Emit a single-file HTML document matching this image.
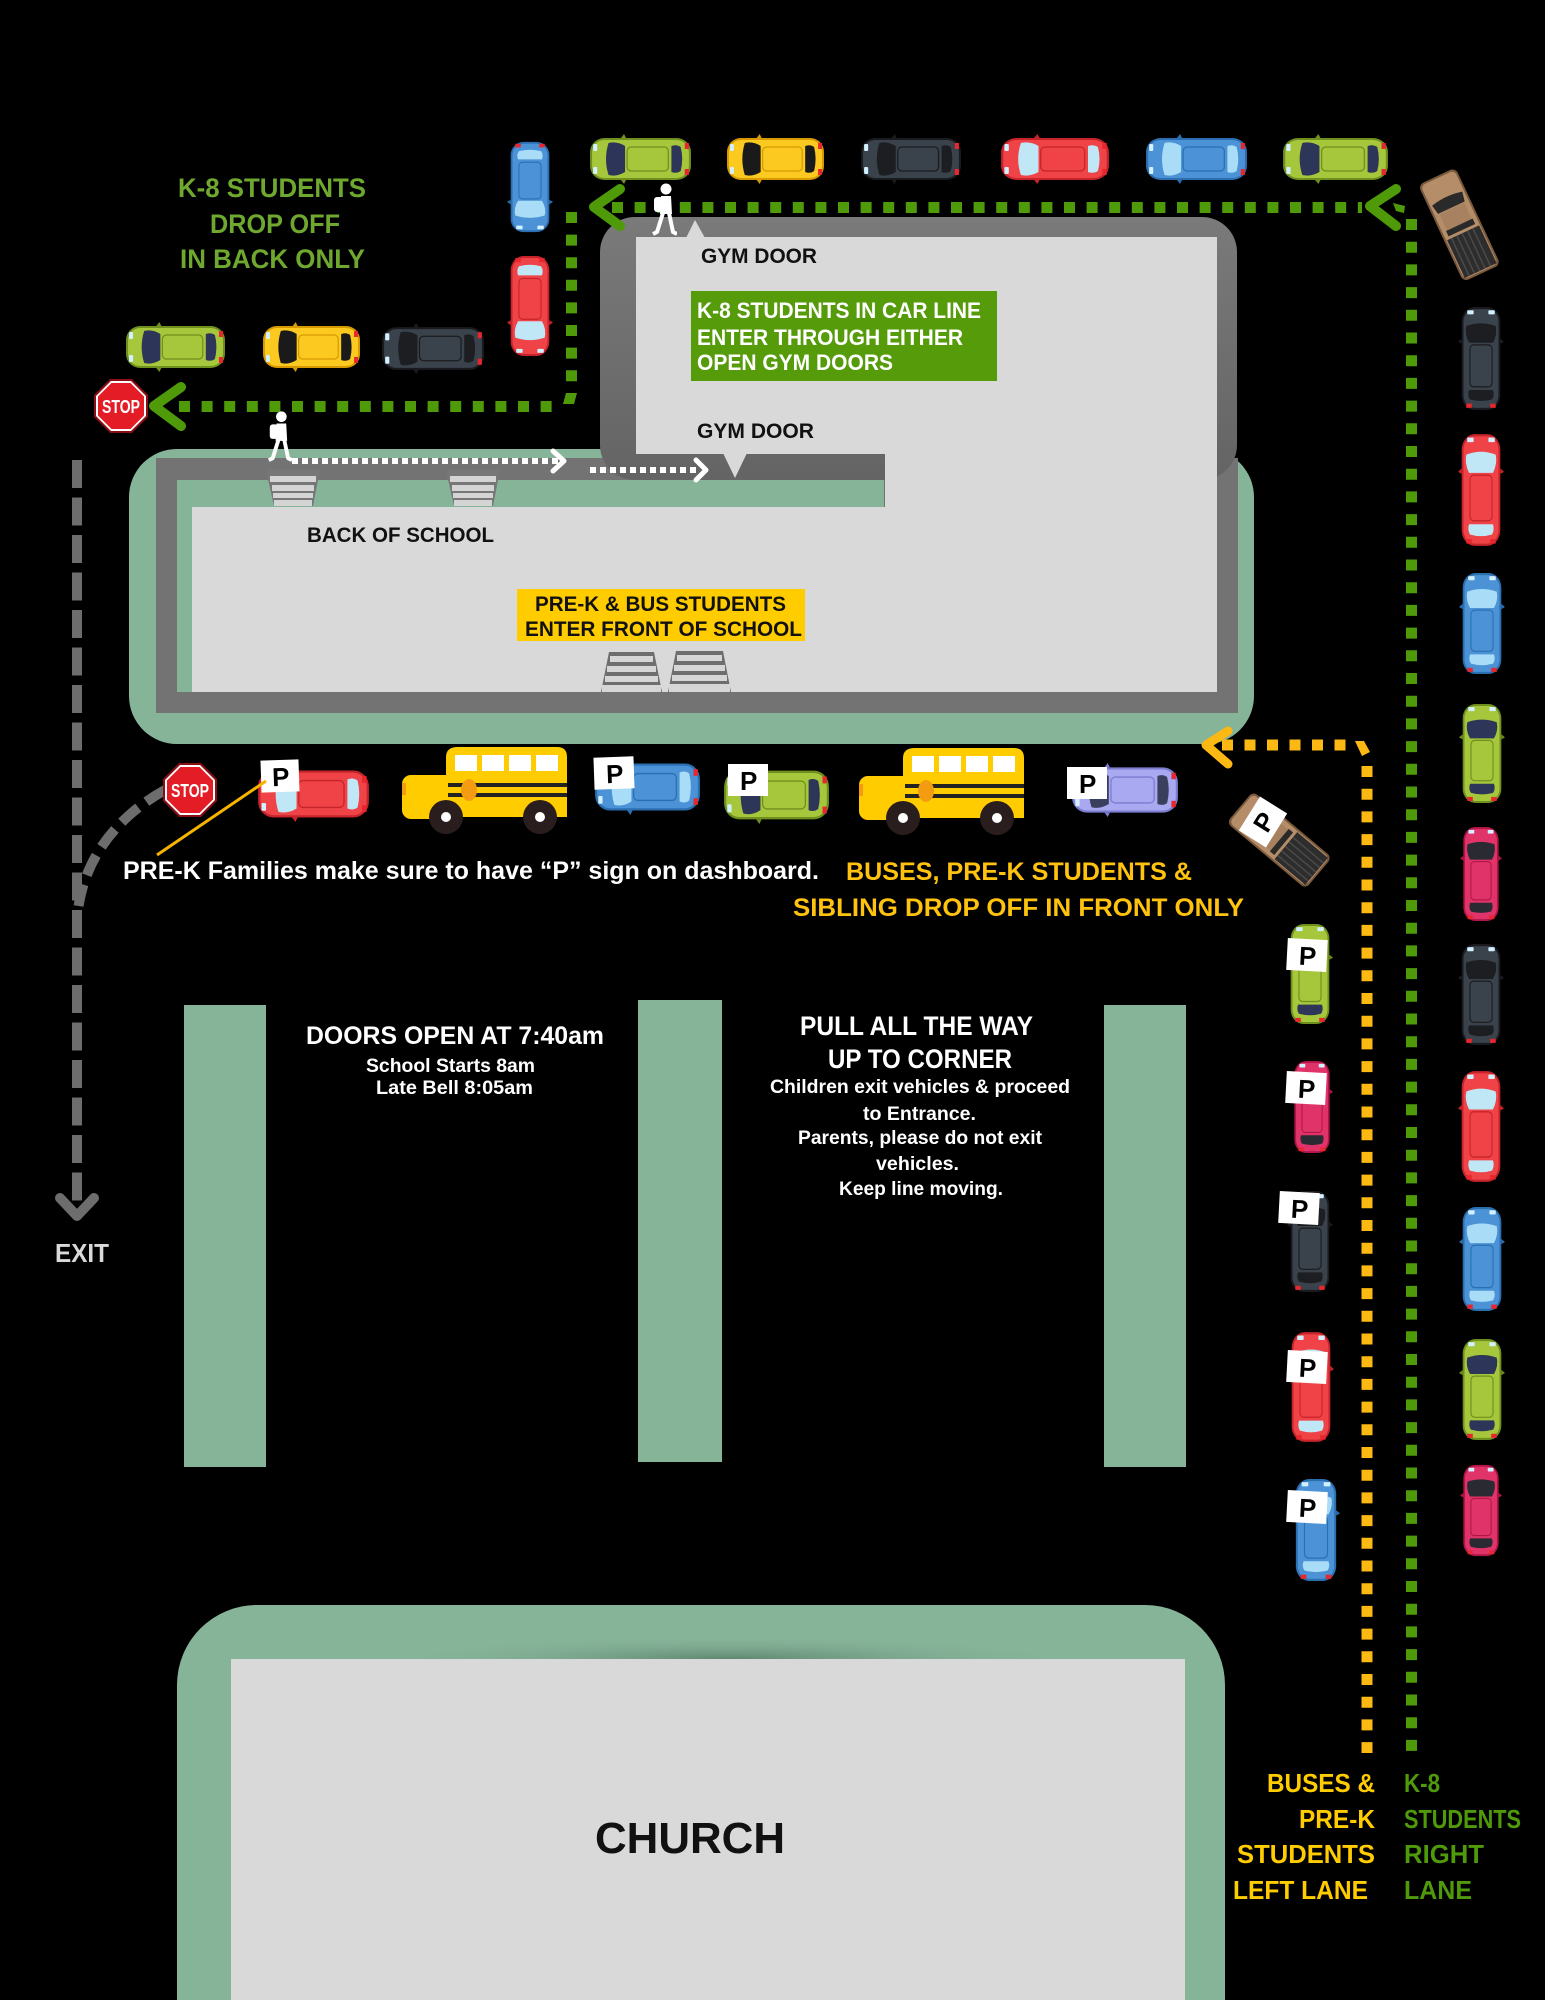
<!DOCTYPE html>
<html><head><meta charset="utf-8">
<style>
html,body{margin:0;padding:0;background:#000;width:1545px;height:2000px;overflow:hidden;}
svg{display:block}
text{font-family:"Liberation Sans",Arial,sans-serif;font-weight:700;}
</style></head><body>
<svg width="1545" height="2000" viewBox="0 0 1545 2000" xmlns="http://www.w3.org/2000/svg">
<defs>
 <symbol id="car" viewBox="0 0 100 50" preserveAspectRatio="none">
  <rect x="1" y="4" width="98" height="42" rx="14" style="fill:var(--d)"/>
  <rect x="3" y="6" width="94" height="38" rx="12" fill="currentColor"/>
  <path d="M19 9 Q27 7 35 12 L35 38 Q27 43 19 41 Q14 25 19 9Z" style="fill:var(--w)"/>
  <path d="M80 12 Q85 10 89 13 Q92 25 89 37 Q85 40 80 38 Z" style="fill:var(--w)"/>
  <rect x="37" y="13" width="40" height="24" rx="4" fill="currentColor" style="stroke:var(--d)" stroke-width="1.2"/>
  <rect x="4" y="10" width="4" height="7" rx="1" fill="#d2f0ff"/>
  <rect x="4" y="33" width="4" height="7" rx="1" fill="#d2f0ff"/>
  <rect x="93" y="9" width="4" height="6" fill="#e8262e"/>
  <rect x="93" y="35" width="4" height="6" fill="#e8262e"/>
  <path d="M31 4 L34 0 L36 4Z M31 46 L34 50 L36 46Z" style="fill:var(--d)"/>
 </symbol>
 <symbol id="bus" viewBox="0 0 165 88">
  <rect x="0" y="28" width="54" height="44" rx="9" fill="#ffcc00"/>
  <path d="M44 70 L44 10 Q44 0 56 0 L155 0 Q165 0 165 10 L165 70 Z" fill="#ffcc00"/>
  <rect x="53" y="8" width="22" height="16" fill="#fff"/>
  <rect x="80" y="8" width="22" height="16" fill="#fff"/>
  <rect x="107" y="8" width="22" height="16" fill="#fff"/>
  <rect x="134" y="8" width="22" height="16" fill="#fff"/>
  <rect x="46" y="36" width="119" height="4" fill="#222"/>
  <rect x="46" y="46" width="119" height="4" fill="#222"/>
  <ellipse cx="67" cy="43" rx="8" ry="11" fill="#f39c12"/>
  <rect x="0" y="36" width="4" height="12" fill="#f39c12"/>
  <circle cx="44" cy="70" r="17" fill="#2a1d1d"/><circle cx="44" cy="70" r="5" fill="#fff"/>
  <circle cx="138" cy="70" r="17" fill="#2a1d1d"/><circle cx="138" cy="70" r="5" fill="#fff"/>
 </symbol>
 <symbol id="truck" viewBox="0 0 110 46" preserveAspectRatio="none">
  <rect x="1" y="2" width="108" height="42" rx="6" fill="#7a5a3c"/>
  <rect x="3" y="4" width="104" height="38" rx="5" fill="#b58d68"/>
  <path d="M26 6 L36 8 L36 38 L26 40 Q22 23 26 6Z" fill="#2a2a2a"/>
  <rect x="37" y="9" width="18" height="28" fill="#a88260"/>
  <rect x="55" y="8" width="6" height="30" fill="#2a2a2a"/>
  <rect x="64" y="5" width="42" height="36" fill="#2d2d2d"/>
  <path d="M64 12 H106 M64 18 H106 M64 24 H106 M64 30 H106 M64 36 H106" stroke="#4a4a4a" stroke-width="1.5"/>
 </symbol>
 <symbol id="kid" viewBox="0 0 30 53">
  <circle cx="19" cy="6" r="5.5" fill="#fff"/>
  <path d="M14 13 L24 13 L25 31 L13 31 Z" fill="#fff"/>
  <rect x="7" y="14" width="9" height="15" rx="3" fill="#fff"/>
  <polyline points="16,30 10,49 6,51" fill="none" stroke="#fff" stroke-width="4" stroke-linejoin="round"/>
  <polyline points="22,30 26,49 30,51" fill="none" stroke="#fff" stroke-width="4" stroke-linejoin="round"/>
 </symbol>
 <linearGradient id="gymg" x1="0" y1="0" x2="0" y2="1">
  <stop offset="0" stop-color="#7a7a7a"/><stop offset="1" stop-color="#646464"/>
 </linearGradient>
 <radialGradient id="chsh" cx="0.5" cy="1" r="0.5">
  <stop offset="0" stop-color="#5f8670" stop-opacity="1"/>
  <stop offset="1" stop-color="#86b499" stop-opacity="0"/>
 </radialGradient>
</defs>

<!-- School building -->
<rect x="129" y="449" width="1125" height="295" rx="48" fill="#86b499"/>
<rect x="156" y="458" width="1082" height="255" fill="#737373"/>
<rect x="177" y="480" width="707" height="212" fill="#86b499"/>
<rect x="192" y="507" width="1025" height="185" fill="#d9d9d9"/>
<!-- Gym -->
<rect x="600" y="217" width="637" height="263" rx="35" fill="url(#gymg)"/>
<rect x="636" y="237" width="581" height="217" fill="#d9d9d9"/>
<rect x="885" y="443" width="332" height="249" fill="#d9d9d9"/>
<polygon points="686,238 695,220 705,238" fill="#d9d9d9"/>
<polygon points="723,453 747,453 735,478" fill="#d9d9d9"/>

<!-- steps back -->
<g transform="translate(267,469)">
 <path d="M0 0 H52 V6 L46 37 H7 L0 6Z" fill="#777"/>
 <rect x="3" y="7" width="46" height="6" fill="#d4d4d4"/>
 <rect x="5" y="16" width="42" height="6" fill="#d4d4d4"/>
 <rect x="6" y="24" width="40" height="5" fill="#d4d4d4"/>
 <rect x="7" y="31" width="38" height="6" fill="#d4d4d4"/>
</g>
<g transform="translate(447,469)">
 <path d="M0 0 H52 V6 L46 37 H7 L0 6Z" fill="#777"/>
 <rect x="3" y="7" width="46" height="6" fill="#d4d4d4"/>
 <rect x="5" y="16" width="42" height="6" fill="#d4d4d4"/>
 <rect x="6" y="24" width="40" height="5" fill="#d4d4d4"/>
 <rect x="7" y="31" width="38" height="6" fill="#d4d4d4"/>
</g>
<!-- steps front -->
<g transform="translate(601,652)">
 <path d="M8 0 H53 L61 40 H0Z" fill="#6e6e6e"/>
 <rect x="9" y="4" width="43" height="6" fill="#d6d6d6"/>
 <rect x="6" y="14" width="49" height="6" fill="#d6d6d6"/>
 <rect x="4" y="24" width="53" height="6" fill="#d6d6d6"/>
 <rect x="1" y="33" width="59" height="7" fill="#d6d6d6"/>
</g>
<g transform="translate(668,651)">
 <path d="M8 0 H55 L63 41 H0Z" fill="#6e6e6e"/>
 <rect x="9" y="4" width="45" height="6" fill="#d6d6d6"/>
 <rect x="6" y="14" width="51" height="6" fill="#d6d6d6"/>
 <rect x="4" y="24" width="55" height="6" fill="#d6d6d6"/>
 <rect x="1" y="33" width="61" height="8" fill="#d6d6d6"/>
</g>

<!-- white dotted arrows -->
<line x1="292" y1="461" x2="558" y2="461" stroke="#fff" stroke-width="6" stroke-dasharray="6 4"/>
<polyline points="553,451 564,461 553,471" fill="none" stroke="#fff" stroke-width="5" stroke-linecap="round" stroke-linejoin="round"/>
<line x1="590" y1="470" x2="700" y2="470" stroke="#fff" stroke-width="6" stroke-dasharray="6 4"/>
<polyline points="696,460 706,470 696,480" fill="none" stroke="#fff" stroke-width="5" stroke-linecap="round" stroke-linejoin="round"/>

<!-- Church -->
<path d="M177 2000 V1685 A80 80 0 0 1 257 1605 H1145 A80 80 0 0 1 1225 1685 V2000 Z" fill="#86b499"/>
<rect x="380" y="1612" width="700" height="47" fill="url(#chsh)"/>
<rect x="231" y="1659" width="954" height="341" fill="#d9d9d9"/>

<!-- green islands -->
<rect x="184" y="1005" width="82" height="462" fill="#86b499"/>
<rect x="638" y="1000" width="84" height="462" fill="#86b499"/>
<rect x="1104" y="1005" width="82" height="462" fill="#86b499"/>

<!-- Green dotted path -->
<g stroke="#4f9a08" fill="none">
 <line x1="612" y1="207.5" x2="1362" y2="207.5" stroke-width="11" stroke-dasharray="11 11.6"/>
 <line x1="1411.5" y1="219" x2="1411.5" y2="1753" stroke-width="11" stroke-dasharray="11 11.7"/>
 <line x1="571.5" y1="212" x2="571.5" y2="385" stroke-width="11" stroke-dasharray="11 11.6"/>
 <line x1="179" y1="406.5" x2="556" y2="406.5" stroke-width="11" stroke-dasharray="11 11.6"/>
 <polyline points="1396,189 1370,206 1396,226" stroke-width="10" stroke-linecap="round" stroke-linejoin="round"/>
 <polyline points="620,189 594,207 620,226" stroke-width="10" stroke-linecap="round" stroke-linejoin="round"/>
 <polyline points="181,387 154,406 181,426" stroke-width="10" stroke-linecap="round" stroke-linejoin="round"/>
</g>
<polygon points="1393,203 1405,206 1404,213 1396,211" fill="#4f9a08"/>
<polygon points="566,393 577,393 574,404 563,404" fill="#4f9a08"/>

<!-- Yellow dotted path -->
<g stroke="#fcb813" fill="none">
 <line x1="1222" y1="745" x2="1348" y2="745" stroke-width="11" stroke-dasharray="11 11.5"/>
 <line x1="1367" y1="766" x2="1367" y2="1753" stroke-width="11" stroke-dasharray="11 11.7"/>
 <polyline points="1228,731 1206,745 1228,764" stroke-width="9" stroke-linecap="round" stroke-linejoin="round"/>
</g>
<polygon points="1355,741 1364,741 1370,752 1362,756" fill="#fcb813"/>

<!-- Gray exit path -->
<g stroke="#6d6d6d" fill="none" stroke-width="10">
 <line x1="77" y1="460" x2="77" y2="1205" stroke-dasharray="28 9.5"/>
 <path d="M165 790 C120 815 85 855 78 910" stroke-dasharray="22 10"/>
 <polyline points="60,1198 77,1216 94,1198" stroke-linecap="round" stroke-linejoin="round"/>
</g>

<!-- Stop signs -->
<g transform="translate(121,406)">
 <polygon points="11,-27 27,-11 27,11 11,27 -11,27 -27,11 -27,-11 -11,-27" fill="#8a0f14"/>
 <polygon points="10,-25 25,-10 25,10 10,25 -10,25 -25,10 -25,-10 -10,-25" fill="#fff"/>
 <polygon points="9.5,-23 23,-9.5 23,9.5 9.5,23 -9.5,23 -23,9.5 -23,-9.5 -9.5,-23" fill="#e31c25"/>
 <text x="-19" y="7" font-size="18" fill="#fff" textLength="38" lengthAdjust="spacingAndGlyphs">STOP</text>
</g>
<g transform="translate(190,790)">
 <polygon points="11,-27 27,-11 27,11 11,27 -11,27 -27,11 -27,-11 -11,-27" fill="#8a0f14"/>
 <polygon points="10,-25 25,-10 25,10 10,25 -10,25 -25,10 -25,-10 -10,-25" fill="#fff"/>
 <polygon points="9.5,-23 23,-9.5 23,9.5 9.5,23 -9.5,23 -23,9.5 -23,-9.5 -9.5,-23" fill="#e31c25"/>
 <text x="-19" y="7" font-size="18" fill="#fff" textLength="38" lengthAdjust="spacingAndGlyphs">STOP</text>
</g>

<!-- Cars: top row (facing left) -->
<use href="#car" x="589" y="134" width="103" height="50" color="#a6c63c" style="--d:#6f8f1e;--w:#2d3558"/>
<use href="#car" x="726" y="134" width="99" height="50" color="#fbc91f" style="--d:#d69a00;--w:#1a1a1a"/>
<use href="#car" x="860" y="134" width="102" height="50" color="#3a424b" style="--d:#1a1b1f;--w:#1d1e22"/>
<use href="#car" x="1000" y="134" width="110" height="50" color="#ef4347" style="--d:#c6242a;--w:#bfe7f6"/>
<use href="#car" x="1145" y="134" width="103" height="50" color="#4b93d6" style="--d:#2b6fb0;--w:#a9dcf6"/>
<use href="#car" x="1282" y="134" width="107" height="50" color="#a6c63c" style="--d:#6f8f1e;--w:#2d3558"/>
<!-- left row -->
<use href="#car" x="125" y="322" width="101" height="50" color="#a6c63c" style="--d:#6f8f1e;--w:#2d3558"/>
<use href="#car" x="262" y="322" width="99" height="50" color="#fbc91f" style="--d:#d69a00;--w:#1a1a1a"/>
<use href="#car" x="381" y="323" width="104" height="51" color="#3a424b" style="--d:#1a1b1f;--w:#1d1e22"/>
<!-- vertical near gym (facing down) -->
<g transform="translate(530,187) rotate(-90)"><use href="#car" x="-46" y="-23" width="92" height="46" color="#4b93d6" style="--d:#2b6fb0;--w:#a9dcf6"/></g>
<g transform="translate(530,306) rotate(-90)"><use href="#car" x="-51" y="-23" width="102" height="46" color="#ef4347" style="--d:#c6242a;--w:#bfe7f6"/></g>

<!-- right column (facing up) -->
<g transform="translate(1481,358) rotate(90)"><use href="#car" x="-52" y="-23" width="105" height="46" color="#3a424b" style="--d:#1a1b1f;--w:#1d1e22"/></g>
<g transform="translate(1481,490) rotate(90)"><use href="#car" x="-57" y="-23" width="114" height="46" color="#ef4347" style="--d:#c6242a;--w:#bfe7f6"/></g>
<g transform="translate(1482,623) rotate(90)"><use href="#car" x="-51" y="-23" width="103" height="46" color="#4b93d6" style="--d:#2b6fb0;--w:#a9dcf6"/></g>
<g transform="translate(1482,753) rotate(90)"><use href="#car" x="-50" y="-23" width="101" height="46" color="#a6c63c" style="--d:#6f8f1e;--w:#2d3558"/></g>
<g transform="translate(1481,874) rotate(90)"><use href="#car" x="-48" y="-21" width="96" height="42" color="#e0336a" style="--d:#b01545;--w:#2a2a33"/></g>
<g transform="translate(1481,994) rotate(90)"><use href="#car" x="-51" y="-23" width="103" height="46" color="#3a424b" style="--d:#1a1b1f;--w:#1d1e22"/></g>
<g transform="translate(1481,1126) rotate(90)"><use href="#car" x="-56" y="-23" width="113" height="46" color="#ef4347" style="--d:#c6242a;--w:#bfe7f6"/></g>
<g transform="translate(1482,1259) rotate(90)"><use href="#car" x="-53" y="-23" width="106" height="46" color="#4b93d6" style="--d:#2b6fb0;--w:#a9dcf6"/></g>
<g transform="translate(1482,1389) rotate(90)"><use href="#car" x="-51" y="-23" width="103" height="46" color="#a6c63c" style="--d:#6f8f1e;--w:#2d3558"/></g>
<g transform="translate(1481,1510) rotate(90)"><use href="#car" x="-46" y="-21" width="93" height="42" color="#e0336a" style="--d:#b01545;--w:#2a2a33"/></g>

<!-- left P column (facing up) -->
<g transform="translate(1310,974) rotate(90)"><use href="#car" x="-51" y="-23" width="102" height="46" color="#a6c63c" style="--d:#6f8f1e;--w:#2d3558"/></g>
<g transform="translate(1312,1107) rotate(90)"><use href="#car" x="-47" y="-21" width="94" height="42" color="#e0336a" style="--d:#b01545;--w:#2a2a33"/></g>
<g transform="translate(1310,1241) rotate(90)"><use href="#car" x="-51" y="-23" width="103" height="46" color="#3a424b" style="--d:#1a1b1f;--w:#1d1e22"/></g>
<g transform="translate(1311,1387) rotate(90)"><use href="#car" x="-56" y="-23" width="112" height="46" color="#ef4347" style="--d:#c6242a;--w:#bfe7f6"/></g>
<g transform="translate(1316,1530) rotate(90)"><use href="#car" x="-52" y="-24" width="104" height="48" color="#4b93d6" style="--d:#2b6fb0;--w:#a9dcf6"/></g>

<!-- trucks -->
<g transform="translate(1460,225) rotate(65)"><use href="#truck" x="-55" y="-22" width="109" height="45"/></g>
<g transform="translate(1280,840) rotate(40)"><use href="#truck" x="-53" y="-22" width="105" height="45"/></g>

<!-- front row -->
<use href="#car" x="257" y="766" width="113" height="56" color="#ef4347" style="--d:#c6242a;--w:#bfe7f6"/>
<use href="#bus" x="402" y="747" width="165" height="88"/>
<use href="#car" x="594" y="759" width="107" height="56" color="#4b93d6" style="--d:#2b6fb0;--w:#a9dcf6"/>
<use href="#car" x="723" y="766" width="107" height="58" color="#a6c63c" style="--d:#6f8f1e;--w:#2d3558"/>
<use href="#bus" x="859" y="748" width="165" height="88"/>
<use href="#car" x="1071" y="763" width="108" height="54" color="#a9a9f2" style="--d:#7c7cd0;--w:#3a3f5e"/>

<!-- P signs -->
<g font-size="26" fill="#000">
 <g transform="translate(280,776) rotate(-2)"><rect x="-19" y="-16" width="38" height="32" fill="#fff"/><text x="-8" y="10">P</text></g>
 <g transform="translate(614,773) rotate(-2)"><rect x="-20" y="-16" width="40" height="32" fill="#fff"/><text x="-8" y="10">P</text></g>
 <g transform="translate(748,780)"><rect x="-20" y="-16" width="40" height="32" fill="#fff"/><text x="-8" y="10">P</text></g>
 <g transform="translate(1087,783)"><rect x="-20" y="-16" width="40" height="32" fill="#fff"/><text x="-8" y="10">P</text></g>
 <g transform="translate(1263,822) rotate(-58)"><rect x="-20" y="-16" width="40" height="32" fill="#fff"/><text x="-8" y="10">P</text></g>
 <g transform="translate(1307,955) rotate(3)"><rect x="-20" y="-16" width="40" height="32" fill="#fff"/><text x="-8" y="10">P</text></g>
 <g transform="translate(1306,1088) rotate(3)"><rect x="-20" y="-16" width="40" height="32" fill="#fff"/><text x="-8" y="10">P</text></g>
 <g transform="translate(1299,1208) rotate(3)"><rect x="-20" y="-16" width="40" height="32" fill="#fff"/><text x="-8" y="10">P</text></g>
 <g transform="translate(1307,1367) rotate(3)"><rect x="-20" y="-16" width="40" height="32" fill="#fff"/><text x="-8" y="10">P</text></g>
 <g transform="translate(1307,1507) rotate(3)"><rect x="-20" y="-16" width="40" height="32" fill="#fff"/><text x="-8" y="10">P</text></g>
</g>

<!-- pointer line -->
<line x1="157" y1="855" x2="266" y2="781" stroke="#f5b400" stroke-width="3"/>

<!-- kids -->
<use href="#kid" x="647" y="183" width="30" height="53"/>
<use href="#kid" x="263" y="410" width="29" height="53"/>

<!-- Green box in gym -->
<rect x="691" y="291" width="306" height="90" fill="#559b0a"/>

<!-- Yellow box -->
<rect x="517" y="589" width="288" height="52" fill="#ffcc00"/>

<!-- TEXTS -->
<g fill="#6fa82f" font-size="27">
 <text x="178" y="197" textLength="188" lengthAdjust="spacingAndGlyphs">K-8 STUDENTS</text>
 <text x="210" y="233" textLength="130" lengthAdjust="spacingAndGlyphs">DROP OFF</text>
 <text x="180" y="268" textLength="185" lengthAdjust="spacingAndGlyphs">IN BACK ONLY</text>
</g>
<g fill="#111" font-size="21">
 <text x="701" y="263" textLength="116" lengthAdjust="spacingAndGlyphs">GYM DOOR</text>
 <text x="697" y="438" textLength="117" lengthAdjust="spacingAndGlyphs">GYM DOOR</text>
 <text x="307" y="542" textLength="187" lengthAdjust="spacingAndGlyphs">BACK OF SCHOOL</text>
 <text x="535" y="611" textLength="251" lengthAdjust="spacingAndGlyphs">PRE-K &amp; BUS STUDENTS</text>
 <text x="525" y="636" textLength="277" lengthAdjust="spacingAndGlyphs">ENTER FRONT OF SCHOOL</text>
</g>
<g fill="#fff" font-size="22">
 <text x="697" y="318" textLength="284" lengthAdjust="spacingAndGlyphs">K-8 STUDENTS IN CAR LINE</text>
 <text x="697" y="345" textLength="266" lengthAdjust="spacingAndGlyphs">ENTER THROUGH EITHER</text>
 <text x="697" y="370" textLength="196" lengthAdjust="spacingAndGlyphs">OPEN GYM DOORS</text>
</g>
<text x="123" y="879" font-size="25" fill="#fff" textLength="696" lengthAdjust="spacingAndGlyphs">PRE-K Families make sure to have “P” sign on dashboard.</text>
<g fill="#ffc20e" font-size="25">
 <text x="846" y="880" textLength="346" lengthAdjust="spacingAndGlyphs">BUSES, PRE-K STUDENTS &amp;</text>
 <text x="793" y="916" textLength="451" lengthAdjust="spacingAndGlyphs">SIBLING DROP OFF IN FRONT ONLY</text>
</g>
<g fill="#fff">
 <text x="306" y="1044" font-size="25" textLength="298" lengthAdjust="spacingAndGlyphs">DOORS OPEN AT 7:40am</text>
 <text x="366" y="1072" font-size="19" textLength="169" lengthAdjust="spacingAndGlyphs">School Starts 8am</text>
 <text x="376" y="1094" font-size="19" textLength="157" lengthAdjust="spacingAndGlyphs">Late Bell 8:05am</text>
 <text x="800" y="1035" font-size="27" textLength="233" lengthAdjust="spacingAndGlyphs">PULL ALL THE WAY</text>
 <text x="828" y="1068" font-size="27" textLength="184" lengthAdjust="spacingAndGlyphs">UP TO CORNER</text>
 <text x="770" y="1093" font-size="19" textLength="300" lengthAdjust="spacingAndGlyphs">Children exit vehicles &amp; proceed</text>
 <text x="863" y="1120" font-size="19" textLength="113" lengthAdjust="spacingAndGlyphs">to Entrance.</text>
 <text x="798" y="1144" font-size="19" textLength="244" lengthAdjust="spacingAndGlyphs">Parents, please do not exit</text>
 <text x="876" y="1170" font-size="19" textLength="83" lengthAdjust="spacingAndGlyphs">vehicles.</text>
 <text x="839" y="1195" font-size="19" textLength="164" lengthAdjust="spacingAndGlyphs">Keep line moving.</text>
</g>
<text x="55" y="1262" font-size="26" fill="#d9d9d9" textLength="54" lengthAdjust="spacingAndGlyphs">EXIT</text>
<text x="595" y="1853" font-size="44" fill="#111" textLength="190" lengthAdjust="spacingAndGlyphs">CHURCH</text>
<g fill="#ffcc00" font-size="26">
 <text x="1267" y="1792" textLength="108" lengthAdjust="spacingAndGlyphs">BUSES &amp;</text>
 <text x="1299" y="1828" textLength="76" lengthAdjust="spacingAndGlyphs">PRE-K</text>
 <text x="1237" y="1863" textLength="138" lengthAdjust="spacingAndGlyphs">STUDENTS</text>
 <text x="1233" y="1899" textLength="135" lengthAdjust="spacingAndGlyphs">LEFT LANE</text>
</g>
<g fill="#4f9a0a" font-size="26">
 <text x="1404" y="1792" textLength="36" lengthAdjust="spacingAndGlyphs">K-8</text>
 <text x="1404" y="1828" textLength="117" lengthAdjust="spacingAndGlyphs">STUDENTS</text>
 <text x="1404" y="1863" textLength="80" lengthAdjust="spacingAndGlyphs">RIGHT</text>
 <text x="1404" y="1899" textLength="68" lengthAdjust="spacingAndGlyphs">LANE</text>
</g>
</svg>
</body></html>
